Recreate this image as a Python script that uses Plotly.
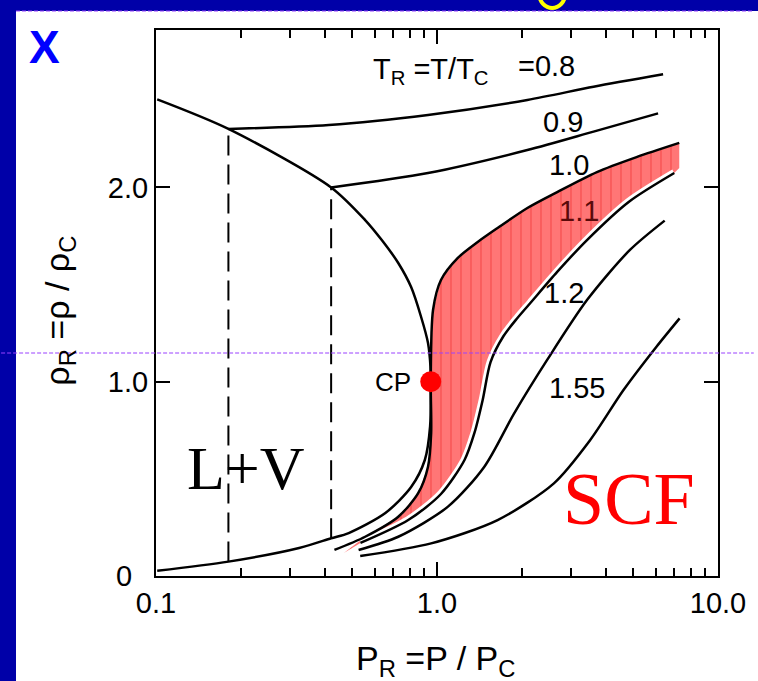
import math
import plotly.graph_objects as go

# ---------------- data ----------------
# Coexistence (binodal) curve: liquid branch -> CP -> vapor branch
binodal_P = [0.101, 0.181, 0.420, 0.555, 0.636, 0.728, 0.809, 0.878, 0.929, 0.948, 0.950,
             0.945, 0.905, 0.809, 0.655, 0.485, 0.420, 0.323, 0.181, 0.101]
binodal_rho = [2.453, 2.301, 2.000, 1.832, 1.729, 1.611, 1.487, 1.333, 1.199, 1.077, 1.000,
               0.770, 0.597, 0.458, 0.324, 0.221, 0.194, 0.144, 0.074, 0.027]

# Isotherms (T_R)
iso08_P = [0.181, 0.412, 0.929, 2.097, 3.607, 6.376]
iso08_rho = [2.301, 2.321, 2.373, 2.450, 2.518, 2.582]

iso09_P = [0.420, 0.929, 2.097, 3.607, 6.12]
iso09_rho = [2.000, 2.074, 2.192, 2.287, 2.381]

iso10_P = [0.4315, 0.555, 0.728, 0.857, 0.929, 0.953, 0.950, 0.968, 1.033, 1.186, 1.396, 1.643,
           2.097, 2.677, 3.707, 5.13, 7.28]
iso10_rho = [0.134, 0.202, 0.305, 0.426, 0.5625, 0.734, 1.000, 1.369, 1.523, 1.637, 1.719, 1.791,
             1.894, 1.976, 2.079, 2.156, 2.229]

iso11_P = [0.534, 0.790, 1.033, 1.253, 1.359, 1.454, 1.551, 1.725, 1.933, 2.149, 2.677, 3.418, 4.81, 6.99]
iso11_rho = [0.170, 0.288, 0.422, 0.597, 0.736, 0.906, 1.101, 1.235, 1.328, 1.405, 1.565, 1.729, 1.925, 2.074]

iso12_P = [0.526, 0.728, 1.094, 1.474, 1.882, 2.466, 3.418, 4.86, 6.46]
iso12_rho = [0.134, 0.202, 0.357, 0.5625, 0.837, 1.112, 1.420, 1.678, 1.829]

iso155_P = [0.533, 0.953, 1.643, 2.606, 3.51, 4.61, 6.04, 7.30]
iso155_rho = [0.103, 0.168, 0.288, 0.477, 0.700, 0.957, 1.180, 1.326]

# Tie lines (dashed) in the L+V region
tie_P = [0.181, 0.420]
tie_rho_vap = [0.074, 0.194]
tie_rho_liq = [2.301, 2.000]

# Critical point
cp_P = [0.950]
cp_rho = [1.000]

# Shaded (red) band between T_R = 1.0 and 1.1
band_tip_P, band_tip_rho = 0.466, 0.118
band_end_P, band_end_rho = 7.28, 2.10

# Labels
iso_labels = ["=0.8", "0.9", "1.0", "1.1", "1.2", "1.55"]
iso_label_P = [2.45, 2.80, 2.95, 3.20, 2.83, 3.15]
iso_label_rho = [2.625, 2.334, 2.115, 1.878, 1.456, 0.968]

x_tickvals = [0.1, 1.0, 10.0]
x_ticktext = ["0.1", "1.0", "10.0"]
x_minor = [0.2, 0.3, 0.4, 0.5, 0.6, 0.7, 0.8, 0.9, 2, 3, 4, 5, 6, 7, 8, 9]
y_tickvals = [0, 1, 2]
y_ticktext = ["0\u00a0\u00a0", "1.0", "2.0"]

# ---------------- figure ----------------
W, H = 758, 681
L, R, T, B = 156, 722, 30, 576
pw, ph = R - L, B - T

def px(xp):
    return (xp - L) / pw

def py(yp):
    return (B - yp) / ph

SANS = "Liberation Sans, Arial, sans-serif"
SERIF = "Liberation Serif, Times New Roman, serif"
LW = 2.5

fig = go.Figure()

# red band polygon
band_x = [band_tip_P] + iso10_P[1:] + [band_end_P] + iso11_P[::-1] + [band_tip_P]
band_y = [band_tip_rho] + iso10_rho[1:] + [band_end_rho] + iso11_rho[::-1] + [band_tip_rho]
fig.add_trace(go.Scatter(
    x=band_x, y=band_y, mode="lines", line=dict(width=0, color="rgba(0,0,0,0)"),
    fill="toself", fillcolor="rgba(255,105,105,0.9)",
    fillpattern=dict(shape="|", fgcolor="rgba(235,30,30,0.95)", bgcolor="rgba(255,108,108,0.93)",
                     size=10, solidity=0.12),
    hoverinfo="skip", showlegend=False))

# white halo along the 1.1 isotherm
fig.add_trace(go.Scatter(x=iso11_P, y=iso11_rho, mode="lines",
                         line=dict(color="white", width=8, shape="spline", smoothing=0.8),
                         hoverinfo="skip", showlegend=False))

# tie lines
for p, rv, rl in zip(tie_P, tie_rho_vap, tie_rho_liq):
    fig.add_trace(go.Scatter(x=[p, p], y=[rv, rl], mode="lines",
                             line=dict(color="black", width=2, dash="20px,9px"),
                             hoverinfo="skip", showlegend=False))

for xs, ys in [(binodal_P, binodal_rho), (iso08_P, iso08_rho), (iso09_P, iso09_rho),
               (iso10_P, iso10_rho), (iso11_P, iso11_rho), (iso12_P, iso12_rho),
               (iso155_P, iso155_rho)]:
    fig.add_trace(go.Scatter(x=xs, y=ys, mode="lines",
                             line=dict(color="black", width=LW, shape="spline", smoothing=0.8),
                             hoverinfo="skip", showlegend=False))

# critical point
fig.add_trace(go.Scatter(x=cp_P, y=cp_rho, mode="markers",
                         marker=dict(color="#ff0000", size=21, line=dict(width=0)),
                         hoverinfo="skip", showlegend=False))

ann = []
for t, p, r in zip(iso_labels, iso_label_P, iso_label_rho):
    col = "#5a0a0a" if t == "1.1" else "black"
    ann.append(dict(x=math.log10(p), y=r, xref="x", yref="y", text=t, showarrow=False,
                    font=dict(family=SANS, size=29, color=col), xanchor="center", yanchor="middle"))
ann.append(dict(x=math.log10(0.58), y=2.60, xref="x", yref="y",
                text="T<sub>R</sub> =T/T<sub>C</sub>", showarrow=False,
                font=dict(family=SANS, size=29, color="black"), xanchor="left", yanchor="middle"))
ann.append(dict(x=math.log10(0.699), y=1.0, xref="x", yref="y", text="CP", showarrow=False,
                font=dict(family=SANS, size=26, color="black"), xanchor="center", yanchor="middle"))
ann.append(dict(x=math.log10(0.209), y=0.558, xref="x", yref="y", text="L+V", showarrow=False,
                font=dict(family=SERIF, size=62, color="black"), xanchor="center", yanchor="middle"))
ann.append(dict(x=math.log10(4.81), y=0.396, xref="x", yref="y", text="SCF", showarrow=False,
                font=dict(family=SERIF, size=74, color="#ff0000"), xanchor="center", yanchor="middle"))
ann.append(dict(x=px(44), y=py(47), xref="paper", yref="paper", text="<b>X</b>", showarrow=False,
                font=dict(family=SANS, size=46, color="#0000ff"), xanchor="center", yanchor="middle"))
ann.append(dict(x=px(58), y=py(311), xref="paper", yref="paper",
                text="ρ<sub>R</sub> =ρ / ρ<sub>C</sub>",
                textangle=-90, showarrow=False,
                font=dict(family=SANS, size=34, color="black"), xanchor="center", yanchor="middle"))
ann.append(dict(x=px(437), y=py(660), xref="paper", yref="paper",
                text="P<sub>R</sub> =P / P<sub>C</sub>",
                showarrow=False,
                font=dict(family=SANS, size=34, color="black"), xanchor="center", yanchor="middle"))

shapes = [
    dict(type="rect", xref="paper", yref="paper", x0=px(15), x1=px(W + 5), y0=py(11), y1=py(H + 5),
         fillcolor="white", line=dict(width=0), layer="below"),
    dict(type="circle", xref="paper", yref="paper", x0=px(542), x1=px(568), y0=py(8), y1=py(-20),
         line=dict(color="#ffff00", width=4), layer="below"),
    dict(type="line", xref="paper", yref="paper", x0=px(15), x1=px(W), y0=py(11), y1=py(11),
         line=dict(color="#9a40ff", width=1, dash="4px,2px"), layer="above"),
    dict(type="line", xref="paper", yref="paper", x0=px(0), x1=px(W), y0=py(353), y1=py(353),
         line=dict(color="#9a40ff", width=1, dash="4px,2px"), layer="above"),
]

fig.update_layout(
    width=W, height=H,
    margin=dict(l=L, r=W - R, t=T, b=H - B, pad=0),
    paper_bgcolor="#0000a8", plot_bgcolor="white",
    showlegend=False,
    annotations=ann, shapes=shapes,
    xaxis=dict(type="log", range=[-1, 1], tickmode="array", tickvals=x_tickvals, ticktext=x_ticktext,
               ticks="inside", ticklen=14, tickwidth=2, tickcolor="black",
               showline=True, linecolor="black", linewidth=2, mirror="allticks",
               showgrid=False, zeroline=False,
               tickfont=dict(family=SANS, size=29, color="black"),
               minor=dict(tickvals=x_minor, ticks="inside", ticklen=8, tickwidth=2, tickcolor="black",
                          showgrid=False)),
    yaxis=dict(range=[0, 2.81], tickmode="array", tickvals=y_tickvals, ticktext=y_ticktext,
               ticks="inside", ticklen=14, tickwidth=2, tickcolor="black",
               showline=True, linecolor="black", linewidth=2, mirror="allticks",
               showgrid=False, zeroline=False,
               tickfont=dict(family=SANS, size=29, color="black")),
)

fig.write_html("out.html")
